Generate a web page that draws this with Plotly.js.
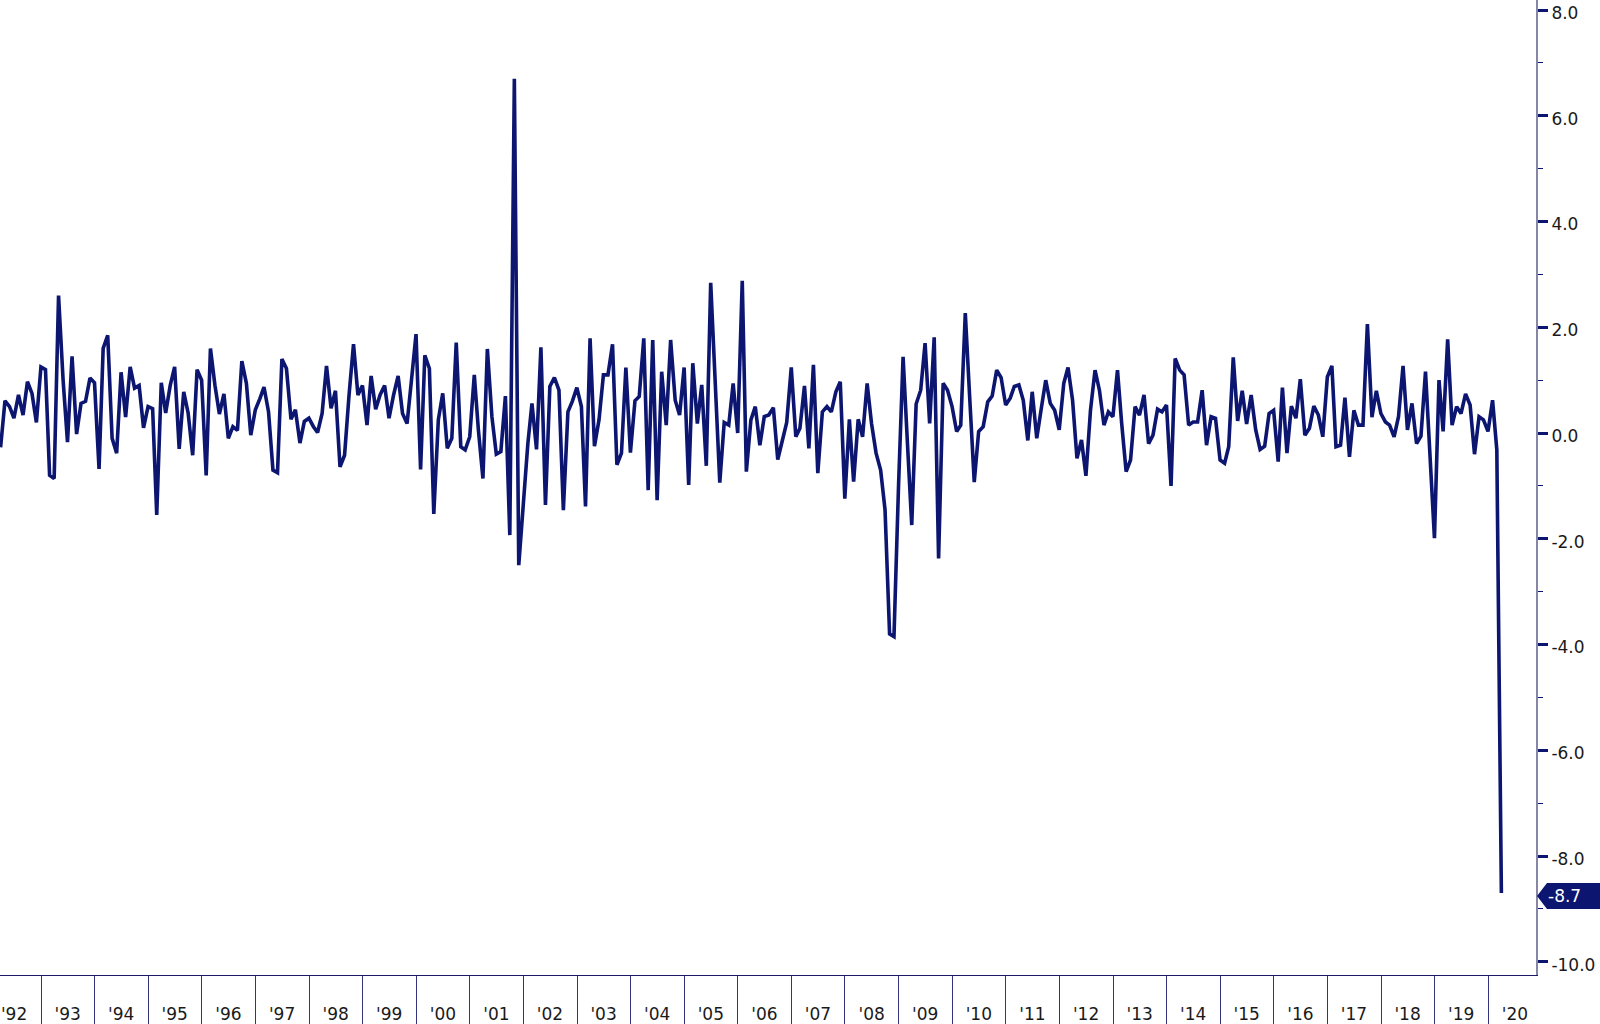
<!DOCTYPE html>
<html>
<head>
<meta charset="utf-8">
<script src="https://cdn.plot.ly/plotly-3.0.1.min.js"></script>
<style>
html, body { margin: 0; padding: 0; background: #ffffff; }
#chart { width: 1600px; height: 1024px; }
</style>
</head>
<body>
<div id="chart"></div>
<script>
// Monthly % change, series starts March 1992
const startYear = 1992;
const startMonth = 3;

const v1992 = [-0.27, 0.61, 0.5, 0.28, 0.72, 0.34, 0.97, 0.75, 0.2, 1.25];
const v1993 = [1.2, -0.8, -0.86, 2.6, 1.0, -0.17, 1.45, -0.02, 0.56, 0.6, 1.04, 0.95];
const v1994 = [-0.68, 1.6, 1.85, -0.1, -0.38, 1.15, 0.3, 1.25, 0.85, 0.9, 0.1, 0.5];
const v1995 = [0.46, -1.55, 0.95, 0.38, 0.9, 1.25, -0.3, 0.78, 0.38, -0.42, 1.2, 1.0];
const v1996 = [-0.8, 1.6, 0.9, 0.36, 0.74, -0.1, 0.12, 0.05, 1.36, 0.94, -0.04, 0.44];
const v1997 = [0.65, 0.87, 0.4, -0.7, -0.75, 1.4, 1.22, 0.26, 0.44, -0.19, 0.22, 0.28];
const v1998 = [0.12, 0.01, 0.37, 1.27, 0.47, 0.8, -0.64, -0.42, 0.7, 1.68, 0.72, 0.9];
const v1999 = [0.15, 1.08, 0.45, 0.72, 0.9, 0.28, 0.72, 1.08, 0.37, 0.18, 1.0, 1.87];
const v2000 = [-0.69, 1.47, 1.22, -1.53, 0.25, 0.75, -0.29, -0.1, 1.71, -0.26, -0.32, -0.07];
const v2001 = [1.1, 0.06, -0.86, 1.59, 0.31, -0.4, -0.35, 0.7, -1.93, 6.7, -2.5, -1.3];
const v2002 = [-0.2, 0.56, -0.31, 1.62, -1.36, 0.88, 1.05, 0.81, -1.46, 0.4, 0.6, 0.86];
const v2003 = [0.5, -1.39, 1.79, -0.25, 0.25, 1.1, 1.1, 1.68, -0.6, -0.38, 1.24, -0.37];
const v2004 = [0.61, 0.69, 1.79, -1.08, 1.76, -1.27, 1.16, 0.15, 1.76, 0.62, 0.34, 1.24];
const v2005 = [-0.98, 1.32, 0.18, 0.91, -0.62, 2.84, 0.9, -0.94, 0.2, 0.15, 0.94, 0.0];
const v2006 = [2.88, -0.73, 0.25, 0.5, -0.23, 0.31, 0.34, 0.48, -0.5, -0.13, 0.2, 1.24];
const v2007 = [-0.07, 0.09, 0.89, -0.29, 1.29, -0.76, 0.4, 0.5, 0.4, 0.78, 0.97, -1.24];
const v2008 = [0.26, -0.92, 0.26, -0.07, 0.94, 0.18, -0.38, -0.7, -1.45, -3.8, -3.85, -1.0];
const v2009 = [1.44, -0.1, -1.74, 0.55, 0.81, 1.7, 0.18, 1.81, -2.37, 0.94, 0.81, 0.5];
const v2010 = [0.03, 0.15, 2.27, 0.67, -0.93, 0.03, 0.12, 0.59, 0.7, 1.19, 1.05, 0.53];
const v2011 = [0.66, 0.88, 0.91, 0.62, -0.14, 0.78, -0.1, 0.47, 1.0, 0.56, 0.43, 0.06];
const v2012 = [0.94, 1.24, 0.62, -0.48, -0.13, -0.81, 0.43, 1.19, 0.81, 0.15, 0.4, 0.31];
const v2013 = [1.19, 0.2, -0.73, -0.51, 0.5, 0.34, 0.72, -0.2, -0.04, 0.45, 0.4, 0.53];
const v2014 = [-1.0, 1.41, 1.19, 1.1, 0.15, 0.21, 0.21, 0.81, -0.23, 0.31, 0.28, -0.51];
const v2015 = [-0.57, -0.26, 1.43, 0.23, 0.8, 0.17, 0.72, 0.06, -0.31, -0.25, 0.37, 0.43];
const v2016 = [-0.54, 0.86, -0.38, 0.51, 0.28, 1.02, -0.04, 0.09, 0.51, 0.34, -0.07, 1.06];
const v2017 = [1.27, -0.26, -0.23, 0.67, -0.45, 0.43, 0.15, 0.15, 2.06, 0.3, 0.8, 0.37];
const v2018 = [0.21, 0.15, -0.07, 0.31, 1.27, 0.06, 0.56, -0.2, -0.06, 1.16, -0.4, -1.99];
const v2019 = [1.0, 0.03, 1.77, 0.15, 0.5, 0.37, 0.74, 0.53, -0.4, 0.31, 0.25, 0.03];
const v2020 = [0.62, -0.32, -8.7];

const yTickVals = [-10, -8, -6, -4, -2, 0, 2, 4, 6, 8];
const yTickText = ['-10.0', '-8.0', '-6.0', '-4.0', '-2.0', '0.0', '2.0', '4.0', '6.0', '8.0'];
const yearLabels = ["'92", "'93", "'94", "'95", "'96", "'97", "'98", "'99", "'00", "'01",
                    "'02", "'03", "'04", "'05", "'06", "'07", "'08", "'09", "'10", "'11",
                    "'12", "'13", "'14", "'15", "'16", "'17", "'18", "'19", "'20"];

const values = [].concat(v1992, v1993, v1994, v1995, v1996, v1997, v1998, v1999, v2000,
  v2001, v2002, v2003, v2004, v2005, v2006, v2007, v2008, v2009, v2010, v2011, v2012,
  v2013, v2014, v2015, v2016, v2017, v2018, v2019, v2020);

// month-end dates for each observation
const dates = values.map(function (_, i) {
  const mIdx = startMonth - 1 + i;
  const y = startYear + Math.floor(mIdx / 12);
  const m = mIdx % 12;
  const d = new Date(Date.UTC(y, m + 1, 0));
  return d.toISOString().slice(0, 10);
});

const years = yearLabels.map(function (_, i) { return startYear + i; });
const yearStarts = years.slice(1).map(function (y) { return y + '-01-01'; });
const yearMids = years.map(function (y) { return y + '-07-01'; });

const xRange = ['1992-03-27', '2020-11-22'];
const navy = '#0c1570';
const last = values[values.length - 1];

const traces = [
  { x: dates, y: values, type: 'scatter', mode: 'lines',
    line: { color: navy, width: 3.6 }, hoverinfo: 'skip', showlegend: false },
  { x: [], y: [], xaxis: 'x2', type: 'scatter', mode: 'lines', showlegend: false }
];

const layout = {
  width: 1600, height: 1024,
  margin: { l: 0, r: 64, t: 0, b: 49, pad: 0 },
  paper_bgcolor: '#ffffff', plot_bgcolor: '#ffffff',
  font: { family: 'DejaVu Sans', size: 17, color: '#1a1a1a' },
  showlegend: false,
  xaxis: {
    type: 'date', range: xRange, tickmode: 'array', tickvals: yearStarts,
    ticks: 'outside', ticklen: 49, tickwidth: 1, tickcolor: '#34347a',
    showticklabels: false, showline: true, linecolor: '#1c1c66', linewidth: 1,
    showgrid: false, zeroline: false, fixedrange: true
  },
  xaxis2: {
    type: 'date', overlaying: 'x', side: 'bottom', anchor: 'y', range: xRange,
    tickmode: 'array', tickvals: yearMids, ticktext: yearLabels,
    ticks: 'outside', ticklen: 24, tickcolor: 'rgba(0,0,0,0)',
    showline: false, showgrid: false, zeroline: false,
    tickfont: { family: 'DejaVu Sans', size: 17, color: '#1a1a1a' }
  },
  yaxis: {
    side: 'right', range: [-10.25, 8.19], tickmode: 'array',
    tickvals: yTickVals, ticktext: yTickText,
    ticks: 'outside', ticklen: 10, tickwidth: 3, tickcolor: navy,
    ticklabelshift: 3,
    minor: { tickmode: 'linear', tick0: -9, dtick: 2, ticks: 'outside',
             ticklen: 5, tickwidth: 1, tickcolor: navy },
    showline: true, linecolor: '#8686a6', linewidth: 2,
    showgrid: false, zeroline: false,
    tickfont: { family: 'DejaVu Sans', size: 17, color: '#1a1a1a' }
  },
  shapes: [{
    type: 'path', xref: 'paper', yref: 'y', xsizemode: 'pixel', ysizemode: 'pixel',
    xanchor: 1, yanchor: last,
    path: 'M1,-3 L11,-16 L70,-16 L70,10 L11,10 Z',
    fillcolor: navy, line: { width: 0 }, layer: 'above'
  }],
  annotations: [{
    xref: 'paper', yref: 'y', x: 1, y: last, xanchor: 'left', yanchor: 'middle',
    xshift: 10, yshift: -3, showarrow: false, text: last.toFixed(1),
    font: { family: 'DejaVu Sans', color: '#ffffff', size: 17 }
  }]
};

Plotly.newPlot('chart', traces, layout, { staticPlot: true, displayModeBar: false });
</script>
</body>
</html>
